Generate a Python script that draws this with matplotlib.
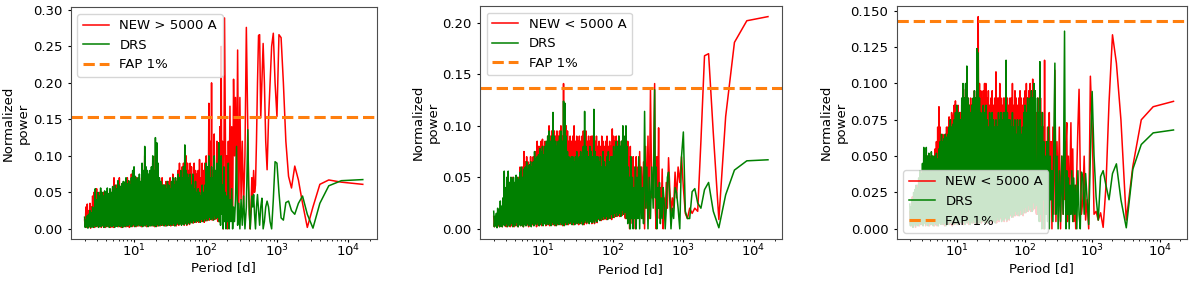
import numpy as np
import matplotlib
matplotlib.use("Agg")
import matplotlib.pyplot as plt

# Periodos (d) - rejilla compartida por los tres paneles
period_dense = [2.000, 2.044, 2.088, 2.134, 2.181, 2.228, 2.277, 2.327, 2.377, 2.429,
                2.482, 2.536, 2.591, 2.648, 2.706, 2.765, 2.825, 2.887, 2.950, 3.014,
                3.080, 3.147, 3.216, 3.286, 3.358, 3.431, 3.506, 3.582, 3.661, 3.740,
                3.822, 3.905, 3.991, 4.078, 4.167, 4.258, 4.350, 4.445, 4.542, 4.641,
                4.743, 4.846, 4.952, 5.060, 5.170, 5.283, 5.398, 5.516, 5.636, 5.759,
                5.886, 6.014, 6.145, 6.279, 6.416, 6.556, 6.699, 6.845, 6.995, 7.147,
                7.304, 7.463, 7.626, 7.792, 7.962, 8.136, 8.313, 8.495, 8.680, 8.869,
                9.064, 9.261, 9.463, 9.670, 9.881, 10.10, 10.32, 10.54, 10.77, 11.01,
                11.25, 11.49, 11.74, 12.00, 12.26, 12.53, 12.80, 13.08, 13.37, 13.66,
                13.96, 14.26, 14.57, 14.89, 15.21, 15.55, 15.89, 16.23, 16.59, 16.95,
                17.32, 17.70, 18.08, 18.48, 18.88, 19.29, 19.71, 20.14, 20.58, 21.03,
                21.49, 21.96, 22.44, 22.93, 23.43, 23.94, 24.46, 25.00, 25.54, 26.10,
                26.67, 27.25, 27.85, 28.46, 29.08, 29.71, 30.36, 31.02, 31.70, 32.39,
                33.10, 33.82, 34.56, 35.31, 36.08, 36.87, 37.68, 38.50, 39.34, 40.20,
                41.07, 41.97, 42.89, 43.82, 44.78, 45.75, 46.75, 47.77, 48.82, 49.88,
                50.97, 52.08, 53.22, 54.38, 55.57, 56.78, 58.02, 59.29, 60.58, 61.90,
                63.25, 64.63, 66.04, 67.48, 68.96, 70.46, 72.00, 73.57, 75.17, 76.81,
                78.49, 80.20, 81.95, 83.74, 85.57, 87.44, 89.34, 91.29, 93.29, 95.32,
                97.40, 99.53, 101.7, 103.9, 106.2, 108.5, 110.9, 113.3, 115.8, 118.3,
                120.9, 123.5, 126.2, 129.0, 131.8, 134.7, 137.6, 140.6, 143.7, 146.8,
                150.0]
period_mid = [152.4, 155.3, 158.4, 161.6, 164.9, 168.4, 172.0, 175.8, 179.8, 183.9,
              188.2, 192.8, 197.5, 202.5, 207.8, 213.3, 219.2, 225.4, 231.9, 238.8,
              246.2, 254.0, 262.3, 271.2, 280.7, 290.9, 301.9, 313.7, 326.5, 340.4,
              355.6, 372.1, 390.2]
period_tail = [400, 410.3, 421.1, 432.4, 444.4, 457.1, 470.6, 484.8, 500, 516.1,
               533.3, 551.7, 571.4, 592.6, 615.4, 640, 666.7, 695.7, 727.3, 761.9,
               800, 842.1, 888.9, 941.2, 1000, 1066.7, 1142.9, 1230.8, 1333.3, 1454.5,
               1600, 1777.8, 2000, 2285.7, 2666.7, 3200, 4000, 5333.3, 8000, 16000]

# Panel 1: NEW > 5000 A vs DRS
p1_new_dense = [0.012, 0.003, 0.030, 0.002, 0.034, 0.004, 0.025, 0.003, 0.035, 0.001,
                0.030, 0.004, 0.045, 0.003, 0.050, 0.002, 0.040, 0.004, 0.055, 0.003,
                0.040, 0.003, 0.050, 0.005, 0.045, 0.002, 0.040, 0.004, 0.050, 0.003,
                0.045, 0.002, 0.040, 0.004, 0.050, 0.003, 0.045, 0.005, 0.050, 0.002,
                0.045, 0.004, 0.055, 0.002, 0.070, 0.003, 0.050, 0.005, 0.060, 0.004,
                0.050, 0.003, 0.070, 0.004, 0.055, 0.002, 0.060, 0.005, 0.050, 0.003,
                0.060, 0.005, 0.065, 0.003, 0.070, 0.004, 0.060, 0.002, 0.065, 0.005,
                0.075, 0.003, 0.070, 0.004, 0.080, 0.006, 0.065, 0.003, 0.070, 0.005,
                0.065, 0.004, 0.070, 0.006, 0.060, 0.003, 0.085, 0.005, 0.075, 0.004,
                0.100, 0.006, 0.075, 0.003, 0.070, 0.005, 0.065, 0.004, 0.070, 0.006,
                0.075, 0.004, 0.090, 0.006, 0.070, 0.003, 0.100, 0.005, 0.100, 0.004,
                0.080, 0.006, 0.065, 0.004, 0.060, 0.007, 0.070, 0.005, 0.060, 0.006,
                0.060, 0.004, 0.065, 0.006, 0.060, 0.005, 0.065, 0.007, 0.070, 0.004,
                0.060, 0.007, 0.075, 0.005, 0.065, 0.006, 0.070, 0.004, 0.065, 0.006,
                0.080, 0.005, 0.090, 0.007, 0.075, 0.006, 0.085, 0.008, 0.090, 0.005,
                0.085, 0.007, 0.100, 0.005, 0.090, 0.008, 0.080, 0.006, 0.090, 0.009,
                0.085, 0.010, 0.070, 0.008, 0.090, 0.012, 0.080, 0.009, 0.075, 0.011,
                0.080, 0.009, 0.095, 0.013, 0.070, 0.010, 0.090, 0.012, 0.080, 0.009,
                0.090, 0.014, 0.100, 0.011, 0.085, 0.015, 0.172, 0.012, 0.120, 0.014,
                0.200, 0.012, 0.080, 0.016, 0.130, 0.013, 0.060, 0.015, 0.120, 0.012,
                0.010]
p1_new_mid = [0.1, 0.01, 0.14, 0.03, 0.25, 0.02, 0.12, 0.0, 0.05, 0.289,
              0.15, 0.02, 0.1, 0.0, 0.12, 0.04, 0.168, 0.02, 0.14, 0.01,
              0.205, 0.1, 0.18, 0.05, 0.245, 0.02, 0.18, 0.04, 0.12, 0.03,
              0.1, 0.276, 0.14]
p1_new_tail = [0.06, 0.02, 0.0, 0.03, 0.07, 0.04, 0.08, 0.05, 0.06, 0.12,
               0.2, 0.265, 0.266, 0.152, 0.2, 0.254, 0.2, 0.12, 0.081, 0.15,
               0.2, 0.25, 0.268, 0.2, 0.154, 0.266, 0.262, 0.2, 0.12, 0.072,
               0.056, 0.086, 0.067, 0.035, 0.002, 0.03, 0.061, 0.067, 0.064, 0.061]
p1_drs_dense = [0.016, 0.002, 0.012, 0.003, 0.018, 0.001, 0.020, 0.004, 0.025, 0.002,
                0.022, 0.003, 0.030, 0.002, 0.028, 0.004, 0.055, 0.003, 0.040, 0.005,
                0.050, 0.002, 0.045, 0.004, 0.056, 0.003, 0.050, 0.005, 0.045, 0.002,
                0.052, 0.004, 0.050, 0.003, 0.056, 0.006, 0.048, 0.002, 0.055, 0.004,
                0.050, 0.003, 0.058, 0.005, 0.052, 0.002, 0.060, 0.004, 0.055, 0.003,
                0.066, 0.005, 0.060, 0.003, 0.058, 0.004, 0.062, 0.002, 0.065, 0.005,
                0.064, 0.003, 0.070, 0.005, 0.062, 0.004, 0.066, 0.006, 0.060, 0.003,
                0.070, 0.004, 0.080, 0.006, 0.085, 0.003, 0.072, 0.005, 0.068, 0.004,
                0.070, 0.006, 0.075, 0.004, 0.065, 0.005, 0.090, 0.003, 0.080, 0.006,
                0.113, 0.004, 0.085, 0.006, 0.080, 0.003, 0.075, 0.005, 0.080, 0.004,
                0.085, 0.006, 0.100, 0.004, 0.080, 0.005, 0.125, 0.003, 0.118, 0.006,
                0.090, 0.004, 0.070, 0.006, 0.065, 0.005, 0.060, 0.007, 0.060, 0.004,
                0.060, 0.006, 0.055, 0.004, 0.065, 0.007, 0.060, 0.005, 0.055, 0.006,
                0.065, 0.005, 0.070, 0.007, 0.060, 0.004, 0.070, 0.006, 0.065, 0.008,
                0.075, 0.006, 0.070, 0.008, 0.080, 0.005, 0.070, 0.007, 0.085, 0.006,
                0.115, 0.008, 0.080, 0.006, 0.075, 0.009, 0.070, 0.007, 0.075, 0.010,
                0.060, 0.008, 0.075, 0.011, 0.055, 0.009, 0.065, 0.012, 0.050, 0.010,
                0.055, 0.012, 0.050, 0.009, 0.045, 0.013, 0.060, 0.010, 0.050, 0.014,
                0.060, 0.011, 0.090, 0.015, 0.085, 0.012, 0.100, 0.016, 0.070, 0.013,
                0.085, 0.015, 0.070, 0.012, 0.100, 0.018, 0.080, 0.014, 0.090, 0.016,
                0.020]
p1_drs_mid = [0.118, 0.01, 0.07, 0.005, 0.1, 0.02, 0.06, 0.0, 0.085, 0.01,
              0.05, 0.0, 0.045, 0.01, 0.09, 0.0, 0.04, 0.01, 0.055, 0.0,
              0.03, 0.01, 0.04, 0.113, 0.005, 0.035, 0.0, 0.04, 0.005, 0.045,
              0.0, 0.03, 0.136]
p1_drs_tail = [0.06, 0.02, 0.0, 0.02, 0.045, 0.03, 0.047, 0.02, 0.0, 0.03,
               0.047, 0.025, 0.005, 0.03, 0.042, 0.0, 0.01, 0.03, 0.038, 0.03,
               0.01, 0.0, 0.04, 0.092, 0.09, 0.05, 0.015, 0.012, 0.036, 0.038,
               0.025, 0.02, 0.035, 0.045, 0.02, 0.001, 0.035, 0.059, 0.066, 0.0675]

# Panel 2: NEW < 5000 A vs DRS
p2_new_dense = [0.012, 0.002, 0.010, 0.003, 0.012, 0.002, 0.015, 0.003, 0.014, 0.002,
                0.020, 0.003, 0.018, 0.002, 0.025, 0.004, 0.040, 0.003, 0.035, 0.002,
                0.045, 0.003, 0.050, 0.004, 0.040, 0.002, 0.048, 0.003, 0.050, 0.004,
                0.045, 0.002, 0.040, 0.004, 0.050, 0.003, 0.045, 0.002, 0.050, 0.004,
                0.060, 0.003, 0.055, 0.004, 0.060, 0.002, 0.075, 0.005, 0.065, 0.003,
                0.070, 0.004, 0.065, 0.002, 0.060, 0.005, 0.070, 0.003, 0.065, 0.004,
                0.070, 0.003, 0.070, 0.005, 0.075, 0.002, 0.085, 0.004, 0.080, 0.003,
                0.080, 0.005, 0.085, 0.003, 0.087, 0.004, 0.080, 0.006, 0.085, 0.003,
                0.080, 0.004, 0.090, 0.006, 0.100, 0.003, 0.090, 0.005, 0.095, 0.004,
                0.100, 0.005, 0.095, 0.003, 0.090, 0.006, 0.095, 0.004, 0.090, 0.005,
                0.095, 0.004, 0.100, 0.006, 0.090, 0.003, 0.141, 0.005, 0.100, 0.004,
                0.100, 0.006, 0.095, 0.004, 0.085, 0.007, 0.090, 0.005, 0.085, 0.006,
                0.090, 0.004, 0.100, 0.006, 0.085, 0.005, 0.090, 0.007, 0.085, 0.004,
                0.090, 0.007, 0.085, 0.005, 0.090, 0.006, 0.095, 0.004, 0.090, 0.006,
                0.095, 0.005, 0.085, 0.007, 0.090, 0.006, 0.085, 0.008, 0.090, 0.005,
                0.090, 0.007, 0.090, 0.005, 0.085, 0.008, 0.090, 0.006, 0.080, 0.009,
                0.085, 0.010, 0.080, 0.008, 0.090, 0.012, 0.085, 0.009, 0.080, 0.011,
                0.085, 0.009, 0.090, 0.013, 0.080, 0.010, 0.085, 0.012, 0.080, 0.009,
                0.097, 0.014, 0.090, 0.011, 0.085, 0.015, 0.090, 0.012, 0.085, 0.014,
                0.090, 0.012, 0.080, 0.016, 0.085, 0.013, 0.080, 0.015, 0.080, 0.012,
                0.010]
p2_new_mid = [0.02, 0.075, 0.01, 0.085, 0.02, 0.07, 0.0, 0.08, 0.01, 0.065,
              0.005, 0.07, 0.02, 0.06, 0.0, 0.07, 0.01, 0.06, 0.02, 0.075,
              0.02, 0.06, 0.01, 0.065, 0.0, 0.08, 0.02, 0.09, 0.01, 0.135,
              0.03, 0.03, 0.141]
p2_new_tail = [0.02, 0.0, 0.07, 0.03, 0.098, 0.01, 0.04, 0.02, 0.058, 0.0,
               0.03, 0.01, 0.045, 0.02, 0.069, 0.04, 0.015, 0.03, 0.02, 0.055,
               0.03, 0.06, 0.045, 0.07, 0.04, 0.015, 0.01, 0.02, 0.015, 0.02,
               0.017, 0.085, 0.168, 0.17, 0.093, 0.009, 0.109, 0.181, 0.202, 0.206]
p2_drs_dense = [0.017, 0.002, 0.012, 0.003, 0.015, 0.001, 0.020, 0.004, 0.018, 0.002,
                0.027, 0.003, 0.022, 0.002, 0.030, 0.004, 0.056, 0.003, 0.040, 0.005,
                0.050, 0.002, 0.056, 0.004, 0.045, 0.003, 0.050, 0.005, 0.048, 0.002,
                0.050, 0.004, 0.045, 0.003, 0.052, 0.006, 0.050, 0.002, 0.048, 0.004,
                0.055, 0.003, 0.060, 0.005, 0.050, 0.002, 0.058, 0.004, 0.060, 0.003,
                0.065, 0.005, 0.058, 0.003, 0.062, 0.004, 0.065, 0.002, 0.060, 0.005,
                0.065, 0.003, 0.075, 0.005, 0.068, 0.004, 0.070, 0.006, 0.072, 0.003,
                0.078, 0.004, 0.075, 0.006, 0.080, 0.003, 0.072, 0.005, 0.080, 0.004,
                0.085, 0.006, 0.090, 0.004, 0.095, 0.005, 0.085, 0.003, 0.090, 0.006,
                0.113, 0.004, 0.090, 0.006, 0.085, 0.003, 0.080, 0.005, 0.085, 0.004,
                0.090, 0.006, 0.095, 0.004, 0.085, 0.005, 0.124, 0.003, 0.122, 0.006,
                0.090, 0.004, 0.075, 0.006, 0.070, 0.005, 0.068, 0.007, 0.070, 0.004,
                0.070, 0.006, 0.065, 0.004, 0.070, 0.007, 0.075, 0.005, 0.068, 0.006,
                0.070, 0.005, 0.075, 0.007, 0.070, 0.004, 0.080, 0.006, 0.114, 0.008,
                0.080, 0.006, 0.075, 0.008, 0.070, 0.005, 0.080, 0.007, 0.075, 0.006,
                0.070, 0.008, 0.116, 0.006, 0.075, 0.009, 0.070, 0.007, 0.070, 0.010,
                0.065, 0.008, 0.070, 0.011, 0.060, 0.009, 0.075, 0.012, 0.065, 0.010,
                0.060, 0.012, 0.070, 0.009, 0.075, 0.013, 0.065, 0.010, 0.070, 0.014,
                0.070, 0.011, 0.080, 0.015, 0.075, 0.012, 0.085, 0.016, 0.080, 0.013,
                0.090, 0.015, 0.080, 0.012, 0.085, 0.018, 0.100, 0.014, 0.090, 0.016,
                0.020]
p2_drs_mid = [0.1, 0.01, 0.08, 0.005, 0.06, 0.02, 0.05, 0.0, 0.07, 0.01,
              0.05, 0.0, 0.04, 0.01, 0.06, 0.0, 0.05, 0.01, 0.07, 0.0,
              0.06, 0.01, 0.04, 0.005, 0.114, 0.02, 0.06, 0.0, 0.05, 0.01,
              0.06, 0.02, 0.135]
p2_drs_tail = [0.03, 0.06, 0.0, 0.04, 0.02, 0.045, 0.005, 0.03, 0.01, 0.04,
               0.025, 0.0, 0.02, 0.05, 0.055, 0.03, 0.0, 0.02, 0.01, 0.04,
               0.035, 0.02, 0.0, 0.07, 0.094, 0.017, 0.01, 0.01, 0.036, 0.039,
               0.025, 0.02, 0.038, 0.045, 0.017, 0.001, 0.033, 0.057, 0.066, 0.067]

# Panel 3: NEW < 5000 A vs DRS (otra reduccion)
p3_new_dense = [0.012, 0.003, 0.015, 0.002, 0.022, 0.004, 0.020, 0.003, 0.025, 0.001,
                0.025, 0.004, 0.030, 0.003, 0.030, 0.002, 0.035, 0.004, 0.035, 0.003,
                0.040, 0.003, 0.045, 0.005, 0.040, 0.002, 0.045, 0.004, 0.050, 0.003,
                0.045, 0.002, 0.050, 0.004, 0.045, 0.003, 0.050, 0.005, 0.048, 0.002,
                0.055, 0.004, 0.060, 0.002, 0.070, 0.003, 0.084, 0.005, 0.070, 0.004,
                0.060, 0.003, 0.065, 0.004, 0.060, 0.002, 0.065, 0.005, 0.070, 0.003,
                0.070, 0.005, 0.077, 0.003, 0.075, 0.004, 0.080, 0.002, 0.078, 0.005,
                0.085, 0.003, 0.088, 0.004, 0.080, 0.006, 0.085, 0.003, 0.080, 0.005,
                0.080, 0.004, 0.085, 0.006, 0.096, 0.003, 0.090, 0.005, 0.096, 0.004,
                0.100, 0.006, 0.090, 0.003, 0.085, 0.005, 0.090, 0.004, 0.085, 0.006,
                0.085, 0.004, 0.095, 0.006, 0.090, 0.003, 0.100, 0.005, 0.146, 0.004,
                0.100, 0.006, 0.095, 0.004, 0.090, 0.007, 0.095, 0.005, 0.100, 0.006,
                0.100, 0.004, 0.090, 0.006, 0.095, 0.005, 0.085, 0.007, 0.090, 0.004,
                0.095, 0.007, 0.085, 0.005, 0.090, 0.006, 0.108, 0.004, 0.090, 0.006,
                0.090, 0.005, 0.100, 0.007, 0.090, 0.006, 0.085, 0.008, 0.090, 0.005,
                0.090, 0.007, 0.100, 0.005, 0.090, 0.008, 0.085, 0.006, 0.090, 0.009,
                0.090, 0.010, 0.100, 0.008, 0.085, 0.012, 0.095, 0.009, 0.090, 0.011,
                0.085, 0.009, 0.090, 0.013, 0.095, 0.010, 0.090, 0.012, 0.085, 0.009,
                0.090, 0.014, 0.095, 0.011, 0.100, 0.015, 0.090, 0.012, 0.095, 0.014,
                0.100, 0.012, 0.090, 0.016, 0.103, 0.013, 0.090, 0.015, 0.095, 0.012,
                0.010]
p3_new_mid = [0.08, 0.01, 0.09, 0.02, 0.07, 0.01, 0.09, 0.005, 0.08, 0.02,
              0.07, 0.0, 0.116, 0.01, 0.06, 0.02, 0.07, 0.005, 0.08, 0.02,
              0.06, 0.0, 0.07, 0.01, 0.109, 0.005, 0.06, 0.02, 0.07, 0.0,
              0.05, 0.01, 0.06]
p3_new_tail = [0.02, 0.06, 0.073, 0.005, 0.05, 0.01, 0.04, 0.073, 0.02, 0.055,
               0.005, 0.03, 0.0, 0.04, 0.07, 0.096, 0.04, 0.01, 0.02, 0.05,
               0.006, 0.02, 0.0, 0.105, 0.07, 0.01, 0.012, 0.006, 0.011, 0.001,
               0.029, 0.087, 0.1335, 0.114, 0.075, 0.006, 0.043, 0.075, 0.084, 0.0877]
p3_drs_dense = [0.017, 0.002, 0.015, 0.003, 0.020, 0.001, 0.025, 0.004, 0.027, 0.002,
                0.030, 0.003, 0.028, 0.002, 0.035, 0.004, 0.040, 0.003, 0.038, 0.005,
                0.045, 0.002, 0.056, 0.004, 0.050, 0.003, 0.056, 0.005, 0.050, 0.002,
                0.052, 0.004, 0.048, 0.003, 0.053, 0.006, 0.050, 0.002, 0.050, 0.004,
                0.050, 0.003, 0.052, 0.005, 0.048, 0.002, 0.055, 0.004, 0.060, 0.003,
                0.065, 0.005, 0.060, 0.003, 0.062, 0.004, 0.065, 0.002, 0.063, 0.005,
                0.065, 0.003, 0.070, 0.005, 0.075, 0.004, 0.070, 0.006, 0.072, 0.003,
                0.075, 0.004, 0.080, 0.006, 0.085, 0.003, 0.078, 0.005, 0.080, 0.004,
                0.075, 0.006, 0.090, 0.004, 0.100, 0.005, 0.090, 0.003, 0.100, 0.006,
                0.112, 0.004, 0.090, 0.006, 0.085, 0.003, 0.080, 0.005, 0.085, 0.004,
                0.090, 0.006, 0.095, 0.004, 0.090, 0.005, 0.124, 0.003, 0.121, 0.006,
                0.090, 0.004, 0.080, 0.006, 0.075, 0.005, 0.085, 0.007, 0.080, 0.004,
                0.085, 0.006, 0.075, 0.004, 0.070, 0.007, 0.080, 0.005, 0.075, 0.006,
                0.080, 0.005, 0.075, 0.007, 0.070, 0.004, 0.075, 0.006, 0.070, 0.008,
                0.080, 0.006, 0.075, 0.008, 0.080, 0.005, 0.075, 0.007, 0.080, 0.006,
                0.080, 0.008, 0.116, 0.006, 0.080, 0.009, 0.075, 0.007, 0.075, 0.010,
                0.070, 0.008, 0.080, 0.011, 0.070, 0.009, 0.075, 0.012, 0.065, 0.010,
                0.075, 0.012, 0.070, 0.009, 0.075, 0.013, 0.065, 0.010, 0.070, 0.014,
                0.080, 0.011, 0.085, 0.015, 0.080, 0.012, 0.090, 0.016, 0.085, 0.013,
                0.090, 0.015, 0.095, 0.012, 0.090, 0.018, 0.100, 0.014, 0.095, 0.016,
                0.020]
p3_drs_mid = [0.02, 0.09, 0.01, 0.08, 0.005, 0.115, 0.01, 0.07, 0.0, 0.08,
              0.02, 0.06, 0.0, 0.05, 0.01, 0.06, 0.005, 0.07, 0.0, 0.05,
              0.02, 0.04, 0.005, 0.06, 0.114, 0.01, 0.05, 0.0, 0.04, 0.005,
              0.05, 0.01, 0.136]
p3_drs_tail = [0.03, 0.0, 0.04, 0.01, 0.035, 0.0, 0.03, 0.01, 0.04, 0.005,
               0.035, 0.01, 0.03, 0.0, 0.04, 0.01, 0.0, 0.039, 0.035, 0.01,
               0.038, 0.02, 0.003, 0.05, 0.0945, 0.05, 0.022, 0.006, 0.036, 0.04,
               0.03, 0.02, 0.038, 0.0447, 0.02, 0.0007, 0.041, 0.058, 0.066, 0.068]

fap_levels = [0.153, 0.1365, 0.1429]
new_labels = ["NEW > 5000 A", "NEW < 5000 A", "NEW < 5000 A"]
legend_locs = ["upper left", "upper left", "lower left"]

periods = np.array(period_dense + period_mid + period_tail)
new_series = [p1_new_dense + p1_new_mid + p1_new_tail,
              p2_new_dense + p2_new_mid + p2_new_tail,
              p3_new_dense + p3_new_mid + p3_new_tail]
drs_series = [p1_drs_dense + p1_drs_mid + p1_drs_tail,
              p2_drs_dense + p2_drs_mid + p2_drs_tail,
              p3_drs_dense + p3_drs_mid + p3_drs_tail]

plt.rcParams["font.family"] = "DejaVu Sans"
plt.rcParams["font.size"] = 9.5

fig = plt.figure(figsize=(12, 2.81), dpi=100)
boxes = [[0.0589, 0.148, 0.2550, 0.8258],
         [0.4000, 0.148, 0.2514, 0.8306],
         [0.7472, 0.148, 0.2417, 0.8306]]
# posiciones de las etiquetas de los ejes (coords de ejes)
ylab_x = [-0.133, -0.1325, -0.168]
xlab_y = [-0.093, -0.100, -0.095]

for i in range(3):
    ax = fig.add_axes(boxes[i])
    ax.plot(periods, new_series[i], color="red", lw=1.1, label=new_labels[i])
    ax.plot(periods, drs_series[i], color="green", lw=1.1, label="DRS")
    ax.axhline(fap_levels[i], color="#ff7f0e", ls="--", lw=2.2, label="FAP 1%")
    ax.set_xscale("log")
    ax.set_xlabel("Period [d]")
    ax.set_ylabel("Normalized\npower")
    ax.xaxis.set_label_coords(0.5, xlab_y[i])
    ax.yaxis.set_label_coords(ylab_x[i], 0.5)
    ax.tick_params(axis="x", which="major", length=2.5, pad=0)
    ax.tick_params(axis="x", which="minor", length=1.5)
    ax.tick_params(axis="y", length=2.5, pad=3.5)
    for s in ax.spines.values():
        s.set_color("0.3")
    ax.legend(loc=legend_locs[i])

fig.savefig("out.png", dpi=100)
